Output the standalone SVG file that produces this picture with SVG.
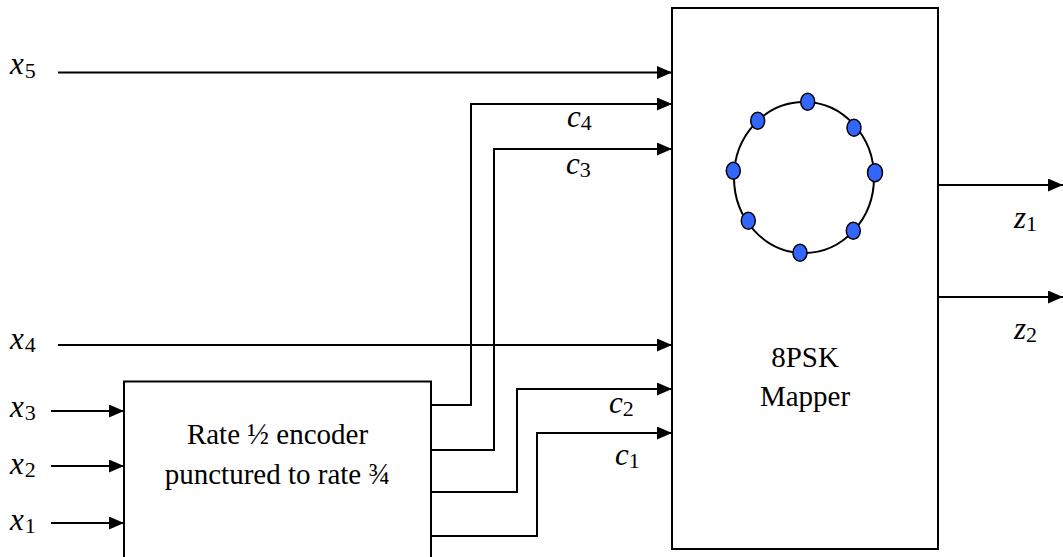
<svg xmlns="http://www.w3.org/2000/svg" width="1063" height="557" viewBox="0 0 1063 557">
  <defs>
    <marker id="arrow" viewBox="0 0 15 13" refX="15" refY="6.5" markerWidth="15" markerHeight="13" markerUnits="userSpaceOnUse" orient="auto">
      <path d="M0,0 L15,6.5 L0,13 Z" fill="#000"/>
    </marker>
    <style>
      .box { fill: #fff; stroke: #000; stroke-width: 2; }
      .wire { fill: none; stroke: #000; stroke-width: 2; marker-end: url(#arrow); }
      .lbl { font-size: 31px; font-style: italic; fill: #000; }
      .sub { font-size: 22px; font-style: normal; }
      .txt { font-size: 29px; fill: #000; text-anchor: middle; }
      .dot { fill: #3366ff; stroke: #000; stroke-width: 1.5; }
    </style>
  </defs>

  <rect width="1063" height="557" fill="#fff"/>

  <!-- connectors -->
  <g id="connectors">
    <path class="wire" d="M58,72.5 H672"/>
    <path class="wire" d="M58,345 H672"/>
    <path class="wire" d="M51,411 H124"/>
    <path class="wire" d="M51,466 H124"/>
    <path class="wire" d="M51,523 H124"/>
    <path class="wire" d="M431,405 H471 V104 H672"/>
    <path class="wire" d="M431,450 H494 V149 H672"/>
    <path class="wire" d="M431,492 H517 V389 H672"/>
    <path class="wire" d="M431,536 H537 V433 H672"/>
    <path class="wire" d="M938,185 H1063"/>
    <path class="wire" d="M938,297 H1063"/>
  </g>

  <g font-family="Liberation Serif, Times New Roman, serif">
  <!-- encoder block -->
  <g id="encoder">
    <rect class="box" x="124" y="381.5" width="307" height="190"/>
    <text class="txt" x="277.5" y="444">Rate ½ encoder</text>
    <text class="txt" x="277.5" y="484">punctured to rate ¾</text>
  </g>

  <!-- 8PSK mapper block with constellation -->
  <g id="mapper">
    <rect class="box" x="672" y="8" width="266" height="541"/>
    <ellipse cx="804" cy="177.5" rx="70" ry="75.5" fill="none" stroke="#000" stroke-width="2"/>
    <ellipse class="dot" cx="807.7" cy="101.7" rx="7" ry="8.5"/>
    <ellipse class="dot" cx="854" cy="127.7" rx="7" ry="8.5"/>
    <ellipse class="dot" cx="875" cy="172.7" rx="7.5" ry="9"/>
    <ellipse class="dot" cx="853.3" cy="230.7" rx="7" ry="8.5"/>
    <ellipse class="dot" cx="800" cy="252.7" rx="7" ry="8.5"/>
    <ellipse class="dot" cx="748.3" cy="220.7" rx="7" ry="8.5"/>
    <ellipse class="dot" cx="733.3" cy="170.7" rx="7" ry="8.5"/>
    <ellipse class="dot" cx="757.7" cy="120.7" rx="7" ry="8.5"/>
    <text class="txt" x="805" y="367" font-size="31">8PSK</text>
    <text class="txt" x="805" y="406" font-size="31">Mapper</text>
  </g>

  <!-- signal labels -->
  <g id="labels">
    <text class="lbl" x="10" y="74">x<tspan class="sub" dx="1" dy="4">5</tspan></text>
    <text class="lbl" x="10" y="349">x<tspan class="sub" dx="1" dy="3">4</tspan></text>
    <text class="lbl" x="10" y="417">x<tspan class="sub" dx="1" dy="3">3</tspan></text>
    <text class="lbl" x="10" y="474">x<tspan class="sub" dx="1" dy="3">2</tspan></text>
    <text class="lbl" x="10" y="530">x<tspan class="sub" dx="1" dy="3">1</tspan></text>
    <text class="lbl" x="567" y="127">c<tspan class="sub" dy="3">4</tspan></text>
    <text class="lbl" x="566" y="174">c<tspan class="sub" dy="3">3</tspan></text>
    <text class="lbl" x="609" y="413">c<tspan class="sub" dy="3">2</tspan></text>
    <text class="lbl" x="615" y="465">c<tspan class="sub" dy="3">1</tspan></text>
    <text class="lbl" x="1014" y="228">z<tspan class="sub" dy="3">1</tspan></text>
    <text class="lbl" x="1014" y="339">z<tspan class="sub" dy="3">2</tspan></text>
  </g>
  </g>
</svg>
